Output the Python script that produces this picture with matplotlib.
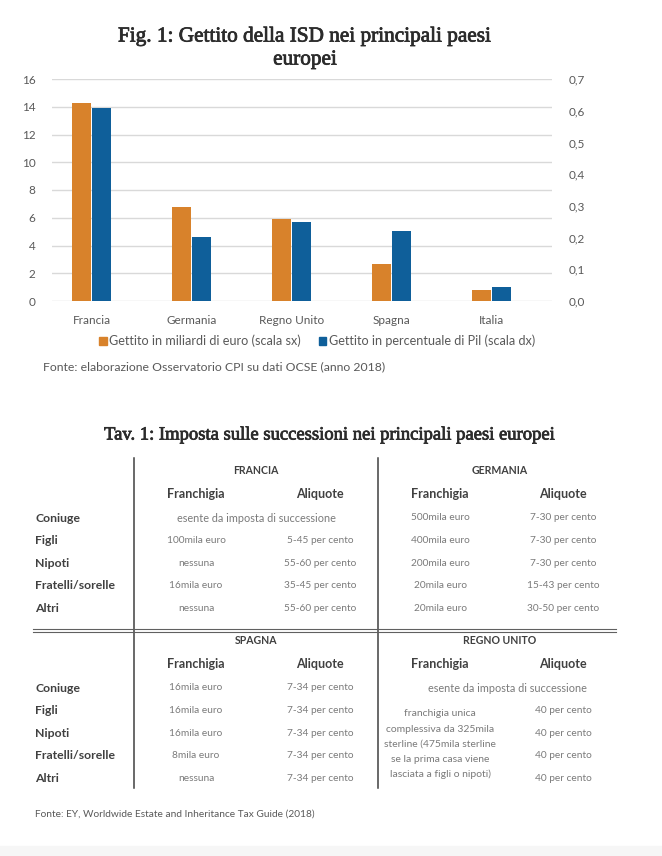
import numpy as np
import matplotlib.pyplot as plt
import matplotlib.patheffects as pe
from matplotlib.patches import Patch, Rectangle
from matplotlib.lines import Line2D

# chart data
paesi = ["Francia", "Germania", "Regno Unito", "Spagna", "Italia"]
gettito_mld = [14.3, 6.8, 5.9, 2.65, 0.8]          # scala sx
gettito_pil = [0.607, 0.201, 0.249, 0.221, 0.045]  # scala dx
yticks_sx = [0, 2, 4, 6, 8, 10, 12, 14, 16]
yticks_dx = [0.0, 0.1, 0.2, 0.3, 0.4, 0.5, 0.6, 0.7]

# table data
righe = ["Coniuge", "Figli", "Nipoti", "Fratelli/sorelle", "Altri"]
esente = "esente da imposta di successione"
francia_franchigia = [None, "100mila euro", "nessuna", "16mila euro", "nessuna"]
francia_aliquote = [None, "5-45 per cento", "55-60 per cento", "35-45 per cento", "55-60 per cento"]
germania_franchigia = ["500mila euro", "400mila euro", "200mila euro", "20mila euro", "20mila euro"]
germania_aliquote = ["7-30 per cento", "7-30 per cento", "7-30 per cento", "15-43 per cento", "30-50 per cento"]
spagna_franchigia = ["16mila euro", "16mila euro", "16mila euro", "8mila euro", "nessuna"]
spagna_aliquote = ["7-34 per cento", "7-34 per cento", "7-34 per cento", "7-34 per cento", "7-34 per cento"]
ru_franchigia = [None, "", "", "", ""]
ru_aliquote = [None, "40 per cento", "40 per cento", "40 per cento", "40 per cento"]
ru_nota = ["franchigia unica", "complessiva da 325mila", "sterline (475mila sterline",
           "se la prima casa viene", "lasciata a figli o nipoti)"]

ARANCIO = "#D8822B"
BLU = "#0F5F9A"
GRIGIO = "#595959"
TITOLO = "#2b2b2b"
W, H = 662, 856
spesso = [pe.withStroke(linewidth=0.55, foreground=TITOLO)]


def fx(x):
    return x / W


def fy(y):
    return 1 - y / H


fig = plt.figure(figsize=(6.62, 8.56), dpi=100)
fig.patch.set_facecolor("white")
fig.patches.append(Rectangle((0, 0), 1, 10 / H, transform=fig.transFigure,
                             color="#f6f6f6", zorder=0))

# ---- chart ----
fig.text(fx(305), fy(37), "Fig. 1: Gettito della ISD nei principali paesi",
         ha="center", va="center", family="Liberation Serif",
         size=15.3, color=TITOLO, path_effects=spesso)
fig.text(fx(305), fy(60), "europei", ha="center", va="center",
         family="Liberation Serif", size=15.3, color=TITOLO, path_effects=spesso)

ax = fig.add_axes([fx(52), fy(301), 500 / W, 222 / H])
ax2 = ax.twinx()
x = np.arange(len(paesi))
w = 0.19
ax.bar(x - w / 2 - 0.005, gettito_mld, w, color=ARANCIO, zorder=3)
ax2.bar(x + w / 2 + 0.005, gettito_pil, w, color=BLU, zorder=3)

ax.set_ylim(0, 16)
ax2.set_ylim(0, 0.7)
ax.set_xlim(-0.40, 4.61)
ax.set_yticks(yticks_sx)
ax2.set_yticks(yticks_dx)
ax2.set_yticklabels([f"{v:.1f}".replace(".", ",") for v in yticks_dx])
ax.set_xticks(x)
ax.set_xticklabels(paesi)
ax.yaxis.grid(True, color="#D9D9D9", linewidth=1)
ax.set_axisbelow(True)
for a in (ax, ax2):
    for s in a.spines.values():
        s.set_visible(False)
    a.tick_params(length=0, labelsize=8.5, labelcolor=GRIGIO)
    for lab in a.get_xticklabels() + a.get_yticklabels():
        lab.set_family("Lato")
ax.tick_params(axis="y", pad=12)
ax.tick_params(axis="x", pad=10)
ax2.tick_params(axis="y", pad=12)

handles = [Patch(color=ARANCIO), Patch(color=BLU)]
leg = fig.legend(handles, ["Gettito in miliardi di euro (scala sx)",
                           "Gettito in percentuale di Pil (scala dx)"],
                 loc="center", bbox_to_anchor=(fx(317), fy(341)), ncol=2,
                 frameon=False, handlelength=0.6, handleheight=0.6,
                 handletextpad=0.2, columnspacing=1.4,
                 prop={"family": "Lato", "size": 9.1})
for t in leg.get_texts():
    t.set_color(GRIGIO)

fig.text(fx(43), fy(367), "Fonte: elaborazione Osservatorio CPI su dati OCSE (anno 2018)",
         ha="left", va="center", family="Lato", size=8.85, color=GRIGIO)

# ---- table ----
fig.text(fx(330), fy(435), "Tav. 1: Imposta sulle successioni nei principali paesi europei",
         ha="center", va="center", family="Liberation Serif",
         size=13.4, color=TITOLO, path_effects=spesso)

SCURO = "#404040"
DATI = "#7a7a7a"
col_fr = [196, 440]
col_al = [320, 563]
blocchi = [
    (470, ["FRANCIA", "GERMANIA"],
     [(francia_franchigia, francia_aliquote), (germania_franchigia, germania_aliquote)]),
    (640, ["SPAGNA", "REGNO UNITO"],
     [(spagna_franchigia, spagna_aliquote), (ru_franchigia, ru_aliquote)]),
]
for y0, nomi, colonne in blocchi:
    for j, nome in enumerate(nomi):
        xc = (col_fr[j] + col_al[j]) / 2 - 2
        fig.text(fx(xc), fy(y0), nome, ha="center", va="center",
                 family="Lato", weight="bold", size=7.6, color=SCURO)
        fig.text(fx(col_fr[j]), fy(y0 + 24), "Franchigia", ha="center", va="center",
                 family="Lato", weight="bold", size=9, color=SCURO)
        fig.text(fx(col_al[j]), fy(y0 + 24), "Aliquote", ha="center", va="center",
                 family="Lato", weight="bold", size=9, color=SCURO)
        fr, al = colonne[j]
        for k in range(len(righe)):
            yk = y0 + 48 + 22.6 * k
            if fr[k] is None:
                fig.text(fx(xc + 8 * j), fy(yk), esente, ha="center", va="center",
                         family="Lato", size=7.8, color=DATI)
                continue
            fig.text(fx(col_fr[j]), fy(yk), fr[k], ha="center", va="center",
                     family="Lato", size=7.3, color=DATI)
            fig.text(fx(col_al[j]), fy(yk), al[k], ha="center", va="center",
                     family="Lato", size=7.3, color=DATI)
    for k, r in enumerate(righe):
        fig.text(fx(35), fy(y0 + 48 + 22.6 * k), r, ha="left", va="center",
                 family="Lato", weight="bold", size=8.8, color=SCURO)

for i, riga in enumerate(ru_nota):
    fig.text(fx(440), fy(714 + 15 * i), riga, ha="center", va="center",
             family="Lato", size=7.5, color=DATI)

for xv in (134, 378):
    fig.add_artist(Line2D([fx(xv), fx(xv)], [fy(458), fy(788)],
                          transform=fig.transFigure, color="#404040", linewidth=1.1))
for yv in (628.5, 631.5):
    fig.add_artist(Line2D([fx(33), fx(616)], [fy(yv), fy(yv)],
                          transform=fig.transFigure, color="#606060", linewidth=0.8))

fig.text(fx(35), fy(814), "Fonte: EY, Worldwide Estate and Inheritance Tax Guide (2018)",
         ha="left", va="center", family="Lato", size=7.3, color=GRIGIO)

fig.savefig("out.png", dpi=100)
